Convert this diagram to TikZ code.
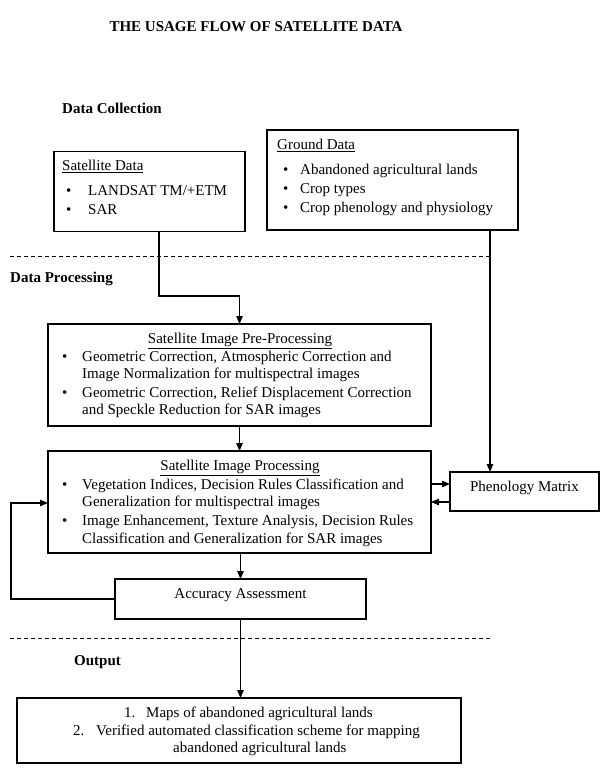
\documentclass[tikz,border=0pt]{standalone}
\usepackage{fontspec}
\setmainfont{Liberation Serif}
\usetikzlibrary{arrows.meta}
\begin{document}
\begin{tikzpicture}[x=1pt,y=-1pt,
  box/.style={draw,line width=1.2pt,inner sep=0pt,outer sep=0pt},
  txt/.style={anchor=west,inner sep=0pt,font=\fontsize{15}{17.5}\selectfont,text height=10pt,text depth=3pt},
  ctxt/.style={txt,anchor=center},
  hd/.style={txt,font=\fontsize{15}{17.5}\selectfont\bfseries},
  arr/.style={line width=1.2pt,-{Triangle[length=8pt,width=6.5pt]}},
  sep/.style={line width=1pt,dash pattern=on 4pt off 3pt}]
\useasboundingbox (0,0) rectangle (600,780);

% headings
\node[hd,anchor=center] (title) at (256,28) {THE USAGE FLOW OF SATELLITE DATA};
\node[hd] (hcol) at (62,110) {Data Collection};
\node[hd] (hproc) at (10,279) {Data Processing};
\node[hd] (hout) at (74,662) {Output};

% separators
\draw[sep] (10,256) -- (492,256);
\draw[sep] (10,638) -- (492,638);

% boxes
\node[box,minimum width=191pt,minimum height=80pt] (sat) at (149.5,191.5) {};
\node[box,minimum width=251pt,minimum height=100pt] (gnd) at (392.5,180) {};
\node[box,minimum width=383pt,minimum height=102pt] (pre) at (239.5,375) {};
\node[box,minimum width=383pt,minimum height=102pt] (proc) at (239.5,502) {};
\node[box,minimum width=149pt,minimum height=39pt] (phen) at (524.5,491.5) {};
\node[box,minimum width=251pt,minimum height=40pt] (acc) at (240.5,599) {};
\node[box,minimum width=444pt,minimum height=65pt] (out) at (239,730.5) {};

% satellite data
\node[txt] (satt) at (62,167) {\underline{Satellite Data}};
\node[txt] (sb1) at (66,192) {•};
\node[txt] (s1) at (88,192) {LANDSAT TM/+ETM};
\node[txt] (sb2) at (66,211) {•};
\node[txt] (s2) at (88,211) {SAR};

% ground data
\node[txt] (gt) at (277,146) {\underline{Ground Data}};
\node[txt] (gb1) at (283,171) {•};
\node[txt] (g1) at (300,171) {Abandoned agricultural lands};
\node[txt] (gb2) at (283,190) {•};
\node[txt] (g2) at (300,190) {Crop types};
\node[txt] (gb3) at (283,209) {•};
\node[txt] (g3) at (300,209) {Crop phenology and physiology};

% pre-processing
\node[ctxt] (pt) at (240,340) {\underline{Satellite Image Pre-Processing}};
\node[txt] (pb1) at (62,358) {•};
\node[txt] (p1) at (82,358) {Geometric Correction, Atmospheric Correction and};
\node[txt] (p2) at (82,375) {Image Normalization for multispectral images};
\node[txt] (pb2) at (62,394) {•};
\node[txt] (p3) at (82,394) {Geometric Correction, Relief Displacement Correction};
\node[txt] (p4) at (82,411) {and Speckle Reduction for SAR images};

% processing
\node[ctxt] (rt) at (240,467) {\underline{Satellite Image Processing}};
\node[txt] (rb1) at (62,486) {•};
\node[txt] (r1) at (82,486) {Vegetation Indices, Decision Rules Classification and};
\node[txt] (r2) at (82,503) {Generalization for multispectral images};
\node[txt] (rb2) at (62,522) {•};
\node[txt] (r3) at (82,522) {Image Enhancement, Texture Analysis, Decision Rules};
\node[txt] (r4) at (82,540) {Classification and Generalization for SAR images};

% phenology, accuracy
\node[ctxt] (pht) at (524.5,488) {Phenology Matrix};
\node[ctxt] (act) at (240.5,595) {Accuracy Assessment};

% output
\node[txt] (on1) at (124,714) {1.};
\node[txt] (o1) at (146,714) {Maps of abandoned agricultural lands};
\node[txt] (on2) at (73,732) {2.};
\node[txt] (o2) at (96,732) {Verified automated classification scheme for mapping};
\node[txt] (o3) at (173,749) {abandoned agricultural lands};

% connectors
\coordinate (k1) at (159,296);
\draw[arr] (sat.south -| k1) -- (k1) -| (pre.north);
\coordinate (k2) at (490,0);
\draw[arr] (gnd.south -| k2) -- (phen.north -| k2);
\draw[arr] (pre.south) -- (proc.north);
\coordinate (k3) at (0,484);
\coordinate (k4) at (0,502);
\draw[arr] (proc.east |- k3) -- (phen.west |- k3);
\draw[arr] (phen.west |- k4) -- (proc.east |- k4);
\draw[arr] (proc.south -| acc.north) -- (acc.north);
\coordinate (k5) at (11,503);
\draw[arr] (acc.west) -| (k5) -- (proc.west |- k5);
\draw[arr] (acc.south) -- (acc.south |- out.north);
\end{tikzpicture}
\end{document}
